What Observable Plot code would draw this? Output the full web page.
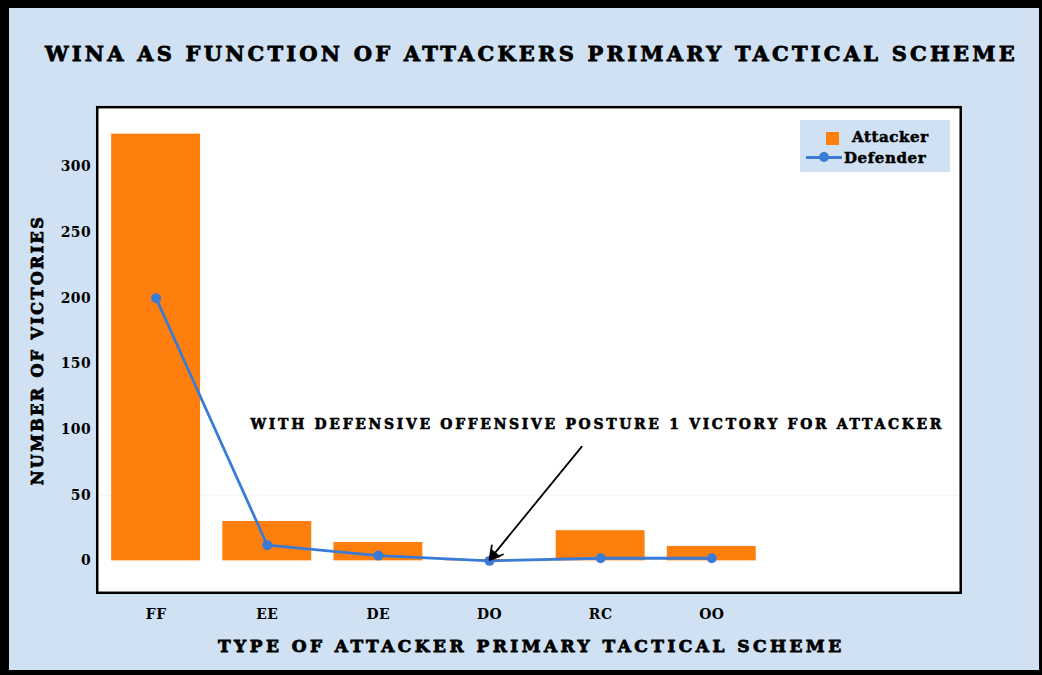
<!DOCTYPE html>
<html>
<head>
<meta charset="utf-8">
<script src="https://cdn.jsdelivr.net/npm/d3@7"></script>
<script src="https://cdn.jsdelivr.net/npm/@observablehq/plot@0.6"></script>
<style>
  html, body { margin: 0; padding: 0; background: #ffffff; }
  #wrap { position: relative; width: 1042px; height: 675px; background: #cfe1f2; box-sizing: border-box;
          border-left: 9px solid #000; border-top: 8px solid #000; border-bottom: 5px solid #000; border-right: 3px solid #000; overflow: hidden; }
  #chart { position: absolute; left: -9px; top: -8px; }
  .t { position: absolute; font-family: "DejaVu Serif", serif; font-weight: 900; color: #000; white-space: nowrap; -webkit-text-stroke: 0.8px #000; }
  #title { left: 36px; top: 33px; font-size: 21px; letter-spacing: 3.2px; }
  #xlabel { left: 209px; top: 628px; font-size: 17px; letter-spacing: 3.45px; }
  #ylabel { left: 19px; top: 342px; font-size: 16px; letter-spacing: 2.4px; transform-origin: 0 0; transform: rotate(-90deg) translate(-50%, 0); }
  #legend { position: absolute; left: 791px; top: 112px; width: 150px; height: 52px; background: #cfe1f2; }
  .lg { position: absolute; font-family: "DejaVu Serif", serif; font-weight: 900; font-size: 15px; letter-spacing: 0.6px; -webkit-text-stroke: 0.5px #000; }
  g[aria-label="text"] text { letter-spacing: 2.7px; }
  g[aria-label="x-axis tick label"] text, g[aria-label="y-axis tick label"] text { letter-spacing: 0.5px; }
</style>
</head>
<body>
<div id="wrap">
  <div id="chart"></div>
  <div class="t" id="title">WINA AS FUNCTION OF ATTACKERS PRIMARY TACTICAL SCHEME</div>
  <div class="t" id="xlabel">TYPE OF ATTACKER PRIMARY TACTICAL SCHEME</div>
  <div class="t" id="ylabel">NUMBER OF VICTORIES</div>
  <div id="legend">
    <div style="position:absolute;left:26px;top:12px;width:13px;height:13px;background:#ff7f0e"></div>
    <div class="lg" style="left:52px;top:8px">Attacker</div>
    <div style="position:absolute;left:6px;top:36px;width:36px;height:3px;background:#3a7bd5"></div>
    <div style="position:absolute;left:19px;top:32px;width:10px;height:10px;border-radius:50%;background:#3a7bd5"></div>
    <div class="lg" style="left:44px;top:29px">Defender</div>
  </div>
</div>
<script>
const categories = ["FF", "EE", "DE", "DO", "RC", "OO"];
const attacker = [325, 30, 14, 1, 23, 11];
const defender = [200, 12, 4, 0, 2, 2];
const yTicks = [0, 50, 100, 150, 200, 250, 300];
const annotationText = ["WITH DEFENSIVE OFFENSIVE POSTURE 1 VICTORY FOR ATTACKER"];
const annotationPos = [{x: 3.97, y: 104}];
const arrowFrom = [{x: 3.83, y: 87}];
const arrowTo = [{x: 3.0, y: 1}];

const rows = categories.map((c, i) => ({i, c, a: attacker[i], d: defender[i]}));

const chart = Plot.plot({
  width: 1042,
  height: 675,
  marginLeft: 97,
  marginRight: 79,
  marginTop: 107,
  marginBottom: 81,
  style: {background: "transparent", fontFamily: "DejaVu Serif, serif", fontWeight: 900, fontSize: "14px", color: "#000"},
  x: {domain: [-0.53, 7.24], label: null},
  y: {domain: [-24.3, 345.5], label: null},
  marks: [
    Plot.frame({fill: "white"}),
    Plot.gridY([50], {stroke: "#f2f2f2", strokeOpacity: 1}),
    Plot.rectY(rows, {x1: d => d.i - 0.4, x2: d => d.i + 0.4, y1: 0, y2: "a", fill: "#ff7f0e"}),
    Plot.line(rows, {x: "i", y: "d", stroke: "#3a7bd5", strokeWidth: 2.8}),
    Plot.dot(rows, {x: "i", y: "d", r: 5, fill: "#3a7bd5"}),
    Plot.text(annotationText, {x: annotationPos[0].x, y: annotationPos[0].y, text: d => d, fontSize: 14, fontWeight: 900, fill: "#000", stroke: "#000", strokeWidth: 0.6}),
    Plot.arrow([0], {x1: arrowFrom[0].x, y1: arrowFrom[0].y, x2: arrowTo[0].x, y2: arrowTo[0].y, stroke: "#000", strokeWidth: 1.8, headLength: 12}),
    Plot.dot([0], {x: arrowTo[0].x + 0.04, y: arrowTo[0].y + 3, symbol: "triangle", r: 4.5, fill: "#000", rotate: 220}),
    Plot.axisX({ticks: d3.range(categories.length), tickFormat: i => categories[i], tickSize: 0, tickPadding: 16, fontWeight: 900, stroke: "#000", strokeWidth: 0.5}),
    Plot.axisY({ticks: yTicks, tickSize: 0, tickPadding: 6, fontWeight: 900, stroke: "#000", strokeWidth: 0.5}),
    Plot.frame({stroke: "#000", strokeWidth: 2.5})
  ]
});
document.getElementById("chart").appendChild(chart);
</script>
</body>
</html>
